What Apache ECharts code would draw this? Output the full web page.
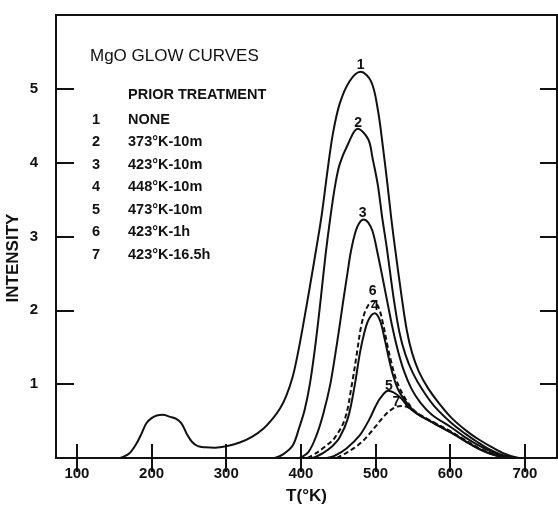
<!DOCTYPE html>
<html>
<head>
<meta charset="utf-8">
<script src="https://cdn.jsdelivr.net/npm/echarts@6/dist/echarts.min.js"></script>
<style>
  html, body { margin: 0; padding: 0; background: #fff; }
  #chart { width: 558px; height: 510px; }
</style>
</head>
<body>
<div id="chart"></div>
<script>
// MgO glow curves (T in K, intensity in arb. units)

const xTicks = [100, 200, 300, 400, 500, 600, 700];
const yTicks = [1, 2, 3, 4, 5];

const curve1 = [[158,0],[170,0.06],[180,0.2],[187,0.34],[193,0.47],[200,0.54],[207,0.575],[215,0.585],[224,0.56],[233,0.53],[240,0.47],[247,0.33],[254,0.22],[262,0.16],[272,0.145],[285,0.14],[300,0.16],[318,0.21],[335,0.29],[350,0.4],[362,0.53],[372,0.67],[380,0.83],[389,1.1],[396,1.42],[403,1.8],[412,2.32],[420,2.8],[428,3.3],[436,3.92],[443,4.4],[452,4.8],[465,5.1],[480,5.23],[494,5.1],[503,4.72],[510,4.2],[516,3.7],[521,3.25],[526,2.85],[535,2.18],[542,1.72],[549,1.42],[558,1.17],[570,0.95],[585,0.74],[602,0.54],[624,0.35],[640,0.24],[655,0.15],[670,0.07],[682,0.025],[692,0]];
const curve2 = [[365,0],[376,0.05],[389,0.17],[398,0.42],[405,0.65],[412,1.0],[419,1.5],[426,2.1],[433,2.75],[440,3.3],[446,3.7],[452,3.98],[463,4.25],[476,4.46],[490,4.32],[496,4.06],[503,3.7],[509,3.25],[515,2.85],[524,2.18],[532,1.7],[540,1.4],[550,1.15],[563,0.92],[578,0.71],[602,0.47],[620,0.33],[636,0.22],[650,0.13],[665,0.06],[678,0.02],[688,0]];
const curve3 = [[398,0],[410,0.08],[421,0.31],[430,0.6],[439,0.98],[446,1.4],[452,1.8],[457,2.15],[462,2.48],[467,2.8],[473,3.06],[478,3.18],[484,3.23],[490,3.19],[496,3.07],[503,2.76],[510,2.41],[517,2.05],[523,1.75],[530,1.45],[538,1.18],[548,0.94],[560,0.75],[575,0.59],[602,0.41],[620,0.28],[640,0.16],[658,0.07],[672,0.02],[682,0]];
const curve4 = [[416,0],[430,0.07],[442,0.16],[452,0.28],[463,0.54],[472,0.98],[479,1.42],[485,1.7],[491,1.88],[499,1.96],[506,1.86],[512,1.62],[518,1.34],[524,1.1],[531,0.91],[540,0.77],[548,0.67],[557,0.59],[580,0.46],[602,0.34],[620,0.23],[637,0.13],[653,0.06],[667,0.02],[678,0]];
const curve5 = [[435,0],[445,0.03],[461,0.13],[479,0.31],[492,0.53],[500,0.7],[507,0.82],[517,0.91],[527,0.87],[535,0.8],[543,0.7],[550,0.64],[557,0.59],[580,0.46],[602,0.34],[620,0.23],[637,0.13],[653,0.06],[667,0.02],[677,0]];
const curve6 = [[409,0],[421,0.07],[433,0.16],[445,0.27],[459,0.53],[468,0.98],[475,1.42],[481,1.8],[488,2.03],[497,2.13],[504,2.04],[510,1.82],[516,1.52],[521,1.3],[527,1.08],[534,0.91],[542,0.77],[550,0.66],[558,0.59],[580,0.47],[602,0.35],[620,0.24],[637,0.14],[653,0.07],[667,0.025],[678,0]];
const curve7 = [[448,0],[461,0.07],[472,0.14],[483,0.23],[492,0.33],[501,0.44],[510,0.55],[519,0.64],[527,0.69],[535,0.705],[545,0.68],[552,0.63],[560,0.58],[580,0.47],[602,0.35],[620,0.24],[637,0.14],[653,0.07],[667,0.025],[678,0]];

// curve number tags sitting over the peaks: [text, T, intensity]
const curveTags = [['1',480,5.32],['2',476.7,4.53],['3',482.6,3.32],['6',496,2.26],['4',499,2.06],['5',518,0.98],['7',528,0.75]];

const legendTitle = 'MgO GLOW CURVES';
const legendHead = 'PRIOR TREATMENT';
const legendNums = ['1','2','3','4','5','6','7'];
const legendText = ['NONE','373°K-10m','423°K-10m','448°K-10m','473°K-10m','423°K-1h','423°K-16.5h'];

const ink = '#111';
const font = 'Liberation Sans, Arial, sans-serif';

let chart = echarts.init(document.getElementById('chart'), null, { renderer: 'canvas' });

let curveSeries = (data, dashed) => ({
  type: 'line',
  data: data,
  smooth: 0.35,
  symbol: 'none',
  clip: true,
  lineStyle: { color: ink, width: 2, type: dashed ? [5, 3] : 'solid' },
  z: 3
});

// legend block, drawn as plain text
let legendGraphics = [
  { type: 'text', left: 90, top: 48, style: { text: legendTitle, fill: ink, font: '17px ' + font } },
  { type: 'text', left: 128, top: 87, style: { text: legendHead, fill: ink, font: 'bold 14.5px ' + font } }
];
for (let i = 0; i < legendNums.length; i++) {
  let y = 112 + i * 22.5;
  legendGraphics.push({ type: 'text', left: 92, top: y, style: { text: legendNums[i], fill: ink, font: 'bold 14.5px ' + font } });
  legendGraphics.push({ type: 'text', left: 128, top: y, style: { text: legendText[i], fill: ink, font: 'bold 14.5px ' + font } });
}
legendGraphics.push({
  type: 'text', x: 13, y: 258, rotation: Math.PI / 2,
  style: { text: 'INTENSITY', fill: ink, font: 'bold 17px ' + font, textAlign: 'center', textVerticalAlign: 'middle' }
});

let tickStyle = { color: ink, width: 2 };

let option = {
  animation: false,
  backgroundColor: '#fff',
  grid: { left: 56, right: 1, top: 15, bottom: 47, show: true, borderColor: ink, borderWidth: 2 },
  xAxis: [
    {
      type: 'value', min: 72, max: 743, position: 'bottom',
      axisLine: { show: false }, splitLine: { show: false },
      axisTick: { show: true, inside: true, length: 14, lineStyle: tickStyle, customValues: xTicks },
      axisLabel: { customValues: xTicks, color: ink, fontSize: 15, fontWeight: 'bold', fontFamily: font, margin: 8 },
      name: 'T(°K)', nameLocation: 'middle', nameGap: 30,
      nameTextStyle: { color: ink, fontSize: 17, fontWeight: 'bold', fontFamily: font }
    },
    {
      type: 'value', min: 72, max: 743, position: 'top',
      axisLine: { show: false }, splitLine: { show: false },
      axisTick: { show: true, inside: true, length: 14, lineStyle: tickStyle, customValues: xTicks },
      axisLabel: { show: false }
    }
  ],
  yAxis: [
    {
      type: 'value', min: 0, max: 6, position: 'left',
      axisLine: { show: false }, splitLine: { show: false },
      axisTick: { show: true, inside: true, length: 18, lineStyle: tickStyle, customValues: yTicks },
      axisLabel: { customValues: yTicks, color: ink, fontSize: 15, fontWeight: 'bold', fontFamily: font, margin: 18 }
    },
    {
      type: 'value', min: 0, max: 6, position: 'right',
      axisLine: { show: false }, splitLine: { show: false },
      axisTick: { show: true, inside: true, length: 17, lineStyle: tickStyle, customValues: yTicks },
      axisLabel: { show: false }
    }
  ],
  graphic: legendGraphics,
  series: [
    curveSeries(curve1, false),
    curveSeries(curve2, false),
    curveSeries(curve3, false),
    curveSeries(curve4, false),
    curveSeries(curve5, false),
    curveSeries(curve6, true),
    curveSeries(curve7, true),
    {
      type: 'scatter',
      symbolSize: 0,
      silent: true,
      itemStyle: { opacity: 1, color: ink },
      data: curveTags.map(t => ({ value: [t[1], t[2]], name: t[0] })),
      label: {
        show: true, position: [0, 0], align: 'center', verticalAlign: 'middle',
        formatter: p => p.name,
        color: ink, fontSize: 14, fontWeight: 'bold', fontFamily: font,
        textBorderWidth: 0, opacity: 1
      },
      z: 5
    }
  ]
};

chart.setOption(option);
</script>
</body>
</html>
